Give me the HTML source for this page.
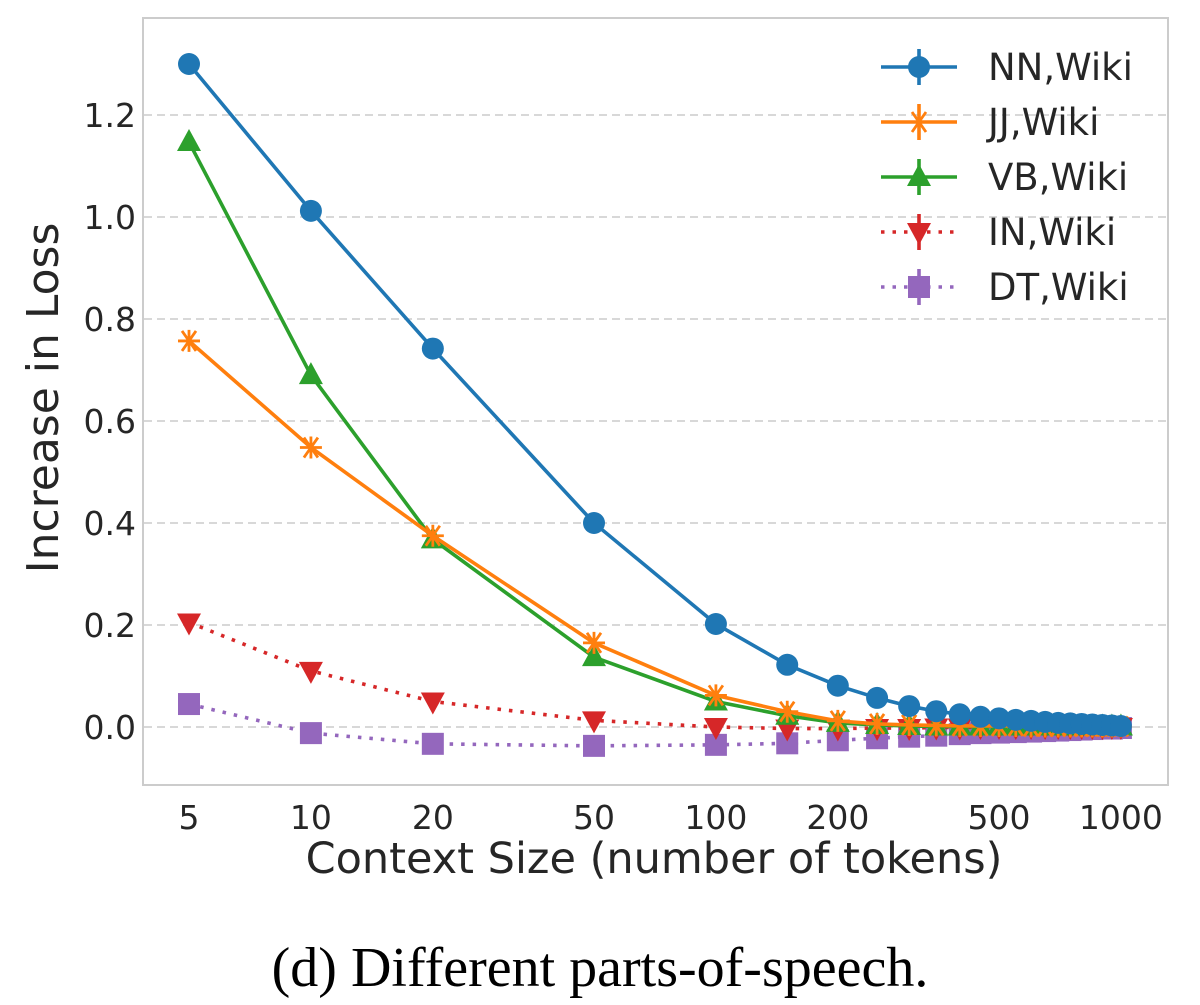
<!DOCTYPE html>
<html><head><meta charset="utf-8"><style>
body{margin:0;background:#fff;}
svg{display:block;font-family:"DejaVu Sans","Liberation Sans",sans-serif;}
</style></head><body>
<svg id="chart" width="1200" height="1005" viewBox="0 0 1200 1005">
<rect x="143" y="18" width="1025" height="767" fill="#fff" stroke="#cccccc" stroke-width="2"/>
<g id="grid"></g><g id="series"></g><g id="ticks"></g>
<text x="654" y="873" text-anchor="middle" font-size="43" fill="#262626">Context Size (number of tokens)</text>
<text transform="translate(58,398) rotate(-90)" text-anchor="middle" font-size="44" fill="#262626">Increase in Loss</text>
<text x="600" y="986" text-anchor="middle" font-size="56" font-family="Liberation Serif,serif" fill="#000">(d) Different parts-of-speech.</text>
<g id="legend"></g>
</svg>
<script>
const xs=[5,10,20,50,100,150,200,250,300,350,400,450,500,550,600,650,700,750,800,850,900,950,1000];
const nn=[1.30,1.012,0.742,0.40,0.202,0.122,0.081,0.057,0.041,0.031,0.025,0.02,0.017,0.014,0.012,0.01,0.008,0.007,0.006,0.005,0.004,0.003,0.002];
const jj=[0.757,0.548,0.375,0.165,0.062,0.030,0.012,0.006,0.004,0.003,0.002,0.002,0.002,0.002,0.001,0.001,0.001,0.001,0.001,0.001,0.001,0.001,0.001];
const vb=[1.147,0.690,0.368,0.137,0.050,0.022,0.008,0.004,0.002,0.001,0.001,0.001,0.001,0.001,0.001,0.001,0.001,0.001,0.001,0.001,0.001,0.001,0.001];
const inn=[0.205,0.110,0.050,0.013,0.0,-0.003,-0.003,-0.002,-0.002,-0.001,-0.001,0,0,0,0,0,0,0,0,0,0,0,0];
const dt=[0.045,-0.012,-0.033,-0.037,-0.035,-0.032,-0.026,-0.022,-0.019,-0.017,-0.014,-0.012,-0.011,-0.010,-0.009,-0.008,-0.007,-0.006,-0.005,-0.004,-0.003,-0.003,-0.002];
const xTicks=[5,10,20,50,100,200,500,1000];
const yTicks=[0.0,0.2,0.4,0.6,0.8,1.0,1.2];
const labels=["NN,Wiki","JJ,Wiki","VB,Wiki","IN,Wiki","DT,Wiki"];
const NS="http://www.w3.org/2000/svg";
function X(v){return 189+(Math.log10(v)-Math.log10(5))*405;}
function Y(v){return 727-v*510;}
function mk(t,a,p){const e=document.createElementNS(NS,t);for(const k in a)e.setAttribute(k,a[k]);p.appendChild(e);return e;}
const grid=document.getElementById('grid'),tk=document.getElementById('ticks'),ser=document.getElementById('series'),leg=document.getElementById('legend');
yTicks.forEach(v=>{
 const l=mk('line',{x1:144,x2:1167,y1:Y(v),y2:Y(v),stroke:'#cccccc','stroke-width':1.6,'stroke-dasharray':'8,5'},grid);
 
 
 const t=mk('text',{x:136,y:Y(v)+12,'text-anchor':'end','font-size':33,fill:'#262626'},tk);t.textContent=v.toFixed(1);
 
 
});
xTicks.forEach(v=>{
 const t=mk('text',{x:X(v),y:829,'text-anchor':'middle','font-size':33,fill:'#262626'},tk);t.textContent=v;
 
 
});
function marker(type,x,y,c,g){
 if(type==='o')return mk('circle',{cx:x,cy:y,r:11,fill:c},g);
 if(type==='s')return mk('rect',{x:x-11,y:y-11,width:22,height:22,fill:c},g);
 if(type==='^')return mk('polygon',{points:`${x},${y-13} ${x-12},${y+9} ${x+12},${y+9}`,fill:c},g);
 if(type==='v')return mk('polygon',{points:`${x},${y+13} ${x-12},${y-9} ${x+12},${y-9}`,fill:c},g);
 if(type==='x')return mk('path',{d:`M${x-11},${y}H${x+11}M${x-7},${y-10}L${x+7},${y+10}M${x+7},${y-10}L${x-7},${y+10}M${x},${y-11}V${y+11}`,stroke:c,'stroke-width':2.8,fill:'none'},g);
}
const defs=[[nn,'#1f77b4','o',null],[jj,'#ff7f0e','x',null],[vb,'#2ca02c','^',null],[inn,'#d62728','v','3.5,8'],[dt,'#9467bd','s','3.5,8']];
defs.slice().reverse().forEach(([d,c,m,dash],ri)=>{
 const g=mk('g',{},ser);
 
 
 const pts=xs.map((x,i)=>X(x)+','+Y(d[i])).join(' ');
 const a={points:pts,fill:'none',stroke:c,'stroke-width':3.6};if(dash)a['stroke-dasharray']=dash;
 mk('polyline',a,g);
 xs.forEach((x,i)=>{const e=marker(m,X(x),Y(d[i]),c,g);
  
  });
});
const ly=[67,122,177,232,287];
defs.forEach(([d,c,m,dash],i)=>{
 const g=mk('g',{},leg);
 
 
 const a={x1:881,x2:957,y1:ly[i],y2:ly[i],stroke:c,'stroke-width':3.6};if(dash)a['stroke-dasharray']=dash;
 mk('line',a,g);
 mk('line',{x1:919,x2:919,y1:ly[i]-18,y2:ly[i]+18,stroke:c,'stroke-width':3.6},g);
 marker(m,919,ly[i],c,g);
 const t=mk('text',{x:988,y:ly[i]+13,'font-size':37,fill:'#262626'},g);t.textContent=labels[i];
});
</script>
</body></html>
